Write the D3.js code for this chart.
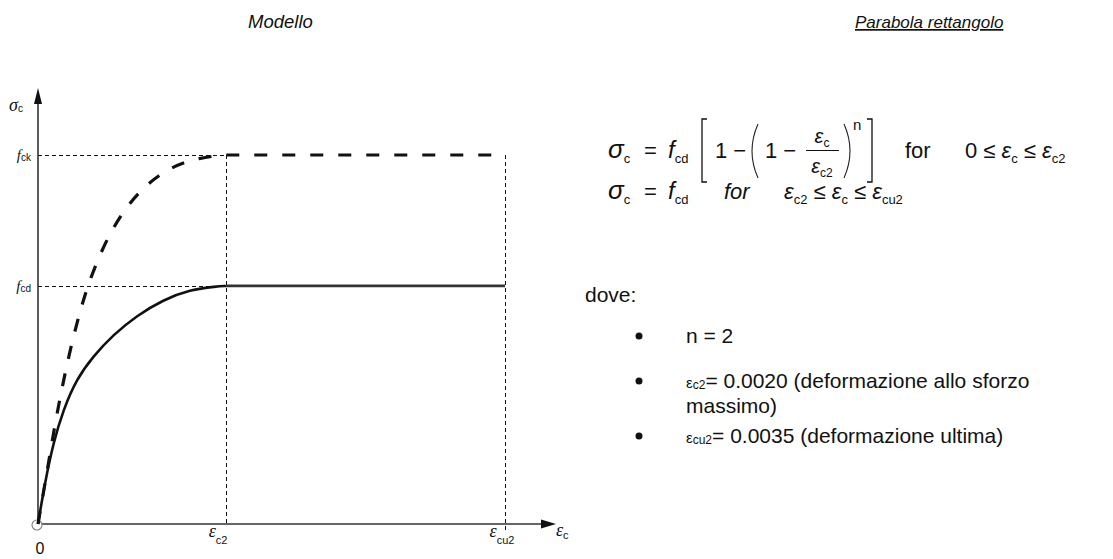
<!DOCTYPE html>
<html>
<head>
<meta charset="utf-8">
<script src="https://cdn.jsdelivr.net/npm/d3@7"></script>
<style>
  html, body { margin: 0; padding: 0; background: #fff; }
  svg { display: block; }
  text { font-family: "Liberation Sans", Arial, sans-serif; fill: #111; }
</style>
</head>
<body>
<svg id="chart" width="1113" height="559"></svg>
<script>
// ---- data (strain in ‰, stress in units of f_cd) ----
const xTickValues = [2.0, 3.5];
const xTickSubs = ["c2", "cu2"];
const yTickValues = [1.0, 1.55];
const yTickSubs = ["cd", "ck"];

// design curve (parabola-rectangle, solid)
const designStrain = [0, 0.0745, 0.163, 0.269, 0.412, 0.588, 0.801, 1.050, 1.333, 1.617, 1.901, 2.0, 3.5];
const designStress = [0, 0.175, 0.340, 0.480, 0.610, 0.705, 0.795, 0.875, 0.942, 0.984, 0.998, 1.0, 1.0];

// characteristic curve (dashed)
const charStrain = [0, 0.0745, 0.128, 0.191, 0.255, 0.319, 0.394, 0.468, 0.532, 0.691, 0.872, 1.106, 1.404, 1.723, 2.0, 3.5];
const charStress = [0, 0.170, 0.295, 0.440, 0.570, 0.690, 0.815, 0.920, 1.005, 1.165, 1.295, 1.412, 1.500, 1.540, 1.55, 1.55];

const bulletLines = ["n = 2", "= 0.0020 (deformazione allo sforzo", "= 0.0035 (deformazione ultima)"];

// ---- drawing ----
const svg = d3.select("#chart");
svg.append("rect").attr("width", 1113).attr("height", 559).attr("fill", "#fff");

const x = d3.scaleLinear().domain([0, 2.0, 3.5, 3.77]).range([38, 226, 505, 556]);
const y = d3.scaleLinear().domain([0, 1.55, 1.83]).range([524, 155, 88]);

const g = svg.append("g");
const axisColor = "#333";

function line(x1, y1, x2, y2, st) {
  const l = g.append("line").attr("x1", x1).attr("y1", y1).attr("x2", x2).attr("y2", y2);
  Object.entries(st).forEach(([k, v]) => l.attr(k, v));
  return l;
}
// reference dashed lines
const thin = {stroke: "#111", "stroke-width": 1, "stroke-dasharray": "4,3", fill: "none", "shape-rendering": "crispEdges"};
yTickValues.forEach(v => line(x(0), y(v) + 0.5, x(2.0), y(v) + 0.5, thin));
line(x(2.0) + 0.5, y(1.55), x(2.0) + 0.5, y(0), thin);
line(x(3.5) + 0.5, y(1.55), x(3.5) + 0.5, y(0) + 8, thin);

// axes
line(x(0), y(0), x(3.77) - 12, y(0), {stroke: axisColor, "stroke-width": 1.6});
line(x(0), y(0), x(0), y(1.83) + 12, {stroke: axisColor, "stroke-width": 1.6});
g.append("path")
  .attr("d", `M${x(3.77)},${y(0)} L${x(3.77) - 15},${y(0) - 4.5} L${x(3.77) - 15},${y(0) + 4.5} Z`)
  .attr("fill", "#111");
g.append("path")
  .attr("d", `M${x(0)},${y(1.83)} L${x(0) - 4},${y(1.83) + 16} L${x(0) + 4},${y(1.83) + 16} Z`)
  .attr("fill", "#111");

// origin circle
g.append("circle").attr("cx", x(0) - 1).attr("cy", y(0) + 1).attr("r", 5)
  .attr("fill", "#fff").attr("stroke", "#888").attr("stroke-width", 1.2);

// curves
const lineGen = d3.line().x(d => x(d[0])).y(d => y(d[1])).curve(d3.curveBasis);
const flatGen = d3.line().x(d => x(d[0])).y(d => y(d[1]));
const designData = designStrain.map((s, i) => [s, designStress[i]]);
const charData = charStrain.map((s, i) => [s, charStress[i]]);

const charPath = lineGen(charData.slice(0, 15)) + flatGen(charData.slice(14)).replace(/^M/, "L");
g.append("path").attr("d", charPath)
  .attr("fill", "none").attr("stroke", "#111").attr("stroke-width", 3.2)
  .attr("stroke-dasharray", "13,15").attr("stroke-linecap", "butt");
g.append("path").attr("d", lineGen(designData.slice(0, 12)))
  .attr("fill", "none").attr("stroke", "#111").attr("stroke-width", 2.6);
g.append("path").attr("d", flatGen(designData.slice(11)))
  .attr("fill", "none").attr("stroke", "#333").attr("stroke-width", 2.8);

// rich text helper
function rich(parent, px, py, parts, anchor) {
  const t = parent.append("text").attr("x", px).attr("y", py).attr("text-anchor", anchor || "start");
  parts.forEach(p => {
    const ts = t.append("tspan").text(p.t).attr("font-size", p.size);
    if (p.italic) ts.attr("font-style", "italic");
    if (p.dy) ts.attr("dy", p.dy);
    if (p.dx) ts.attr("dx", p.dx);
    if (p.family) ts.attr("font-family", p.family);
  });
  return t;
}
// y labels
rich(g, 9, 111, [{t: "σ", size: 18, italic: true, family: "Liberation Serif"}, {t: "c", size: 10, dy: 1}]);
yTickValues.forEach((v, i) => {
  rich(g, 31, y(v) + 5, [{t: "f", size: 15, italic: true, family: "Liberation Serif"}, {t: yTickSubs[i], size: 10, dy: 1}], "end");
});
// x labels
g.append("text").attr("x", x(0) + 2).attr("y", 554).attr("text-anchor", "middle")
  .attr("font-size", 16).text("0");
xTickValues.forEach((v, i) => {
  rich(g, x(v) - (i === 0 ? 8 : 3), 537, [{t: "ε", size: 18, italic: true, family: "Liberation Serif"}, {t: xTickSubs[i], size: 11, dy: 7, family: "Liberation Sans"}], "middle");
});
rich(g, 556, 536, [{t: "ε", size: 18, italic: true, family: "Liberation Serif"}, {t: "c", size: 11, dy: 3}]);

// titles
svg.append("text").attr("x", 248).attr("y", 28).attr("font-size", 18.5).attr("font-style", "italic").text("Modello");
svg.append("text").attr("x", 855).attr("y", 28).attr("font-size", 17).attr("font-style", "italic")
  .attr("text-decoration", "underline").text("Parabola rettangolo");

// ---- formulas ----
const F = svg.append("g");
const X0 = 608, B1 = 158, B2 = 199;
const M = 22, S = 13;
const eps = (sz) => ({t: "ε", size: sz, italic: true});
function sub(tx) { return {t: tx, size: S, dy: 5}; }
// line 1
rich(F, X0, B1, [{t: "σ", size: 26, italic: true}, sub("c")]);
rich(F, X0 + 36, B1, [{t: "=", size: M}]);
rich(F, X0 + 60, B1, [{t: "f", size: 24, italic: true}, sub("cd")]);
F.append("path").attr("d", `M${X0 + 99},${B1 - 39} L${X0 + 94},${B1 - 39} L${X0 + 94},${B1 + 24} L${X0 + 99},${B1 + 24}`)
  .attr("fill", "none").attr("stroke", "#111").attr("stroke-width", 1.3);
rich(F, X0 + 107, B1, [{t: "1 −", size: M}]);
F.append("path").attr("d", `M${X0 + 150},${B1 - 34} Q${X0 + 138},${B1 - 7} ${X0 + 150},${B1 + 20}`)
  .attr("fill", "none").attr("stroke", "#222").attr("stroke-width", 1.1);
rich(F, X0 + 157, B1, [{t: "1 −", size: M}]);
rich(F, X0 + 214, B1 - 15, [eps(20), {t: "c", size: 12, dy: 4}], "middle");
F.append("line").attr("x1", X0 + 198).attr("x2", X0 + 231).attr("y1", B1 - 7.5).attr("y2", B1 - 7.5)
  .attr("stroke", "#111").attr("stroke-width", 1);
rich(F, X0 + 214, B1 + 15, [eps(20), {t: "c2", size: 12, dy: 4}], "middle");
F.append("path").attr("d", `M${X0 + 236},${B1 - 34} Q${X0 + 248},${B1 - 7} ${X0 + 236},${B1 + 20}`)
  .attr("fill", "none").attr("stroke", "#222").attr("stroke-width", 1.1);
rich(F, X0 + 245, B1 - 28, [{t: "n", size: 15}]);
F.append("path").attr("d", `M${X0 + 259},${B1 - 39} L${X0 + 264},${B1 - 39} L${X0 + 264},${B1 + 24} L${X0 + 259},${B1 + 24}`)
  .attr("fill", "none").attr("stroke", "#111").attr("stroke-width", 1.3);
rich(F, X0 + 297, B1, [{t: "for", size: M}]);
rich(F, X0 + 357, B1, [{t: "0 ≤ ", size: M}, eps(M), sub("c"), {t: " ≤ ", size: M, dy: -5}, eps(M), sub("c2")]);
// line 2
rich(F, X0, B2, [{t: "σ", size: 26, italic: true}, sub("c")]);
rich(F, X0 + 36, B2, [{t: "=", size: M}]);
rich(F, X0 + 60, B2, [{t: "f", size: 24, italic: true}, sub("cd")]);
rich(F, X0 + 116, B2, [{t: "for", size: M, italic: true}]);
rich(F, X0 + 176, B2, [eps(M), sub("c2"), {t: " ≤ ", size: M, dy: -5}, eps(M), sub("c"), {t: " ≤ ", size: M, dy: -5}, eps(M), sub("cu2")]);

// ---- "dove" list ----
const T = 21;
svg.append("text").attr("x", 585).attr("y", 302).attr("font-size", T).text("dove:");
const bulletY = [343, 388, 443];
bulletY.forEach(by => svg.append("circle").attr("cx", 639).attr("cy", by - 7).attr("r", 3.5).attr("fill", "#111"));
svg.append("text").attr("x", 686).attr("y", bulletY[0]).attr("font-size", T).text(bulletLines[0]);
rich(svg, 686, bulletY[1], [{t: "ε", size: 15}, {t: "c2", size: 12, dy: 1}, {t: bulletLines[1], size: T, dy: -1}]);
svg.append("text").attr("x", 686).attr("y", 413).attr("font-size", T).text("massimo)");
rich(svg, 686, bulletY[2], [{t: "ε", size: 15}, {t: "cu2", size: 12, dy: 1}, {t: bulletLines[2], size: T, dy: -1}]);
</script>
</body>
</html>
